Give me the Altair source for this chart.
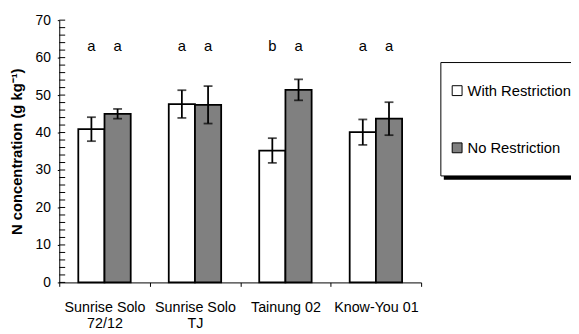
import altair as alt
import pandas as pd

# ---- data ----
cultivars = ["Sunrise Solo 72/12", "Sunrise Solo TJ", "Tainung 02", "Know-You 01"]
label_lines = [["Sunrise Solo", "72/12"], ["Sunrise Solo", "TJ"], ["Tainung 02"], ["Know-You 01"]]
treatments = ["With Restriction", "No Restriction"]
with_mean = [40.9, 47.6, 35.2, 40.1]
with_err = [3.2, 3.7, 3.3, 3.4]
no_mean = [45.0, 47.4, 51.4, 43.7]
no_err = [1.3, 5.0, 2.8, 4.4]
with_letters = ["a", "a", "b", "a"]
no_letters = ["a", "a", "a", "a"]
letter_level = 63
y_major = [0, 10, 20, 30, 40, 50, 60, 70]
y_minor = list(range(0, 71, 2))

rows = []
for i, c in enumerate(cultivars):
    for t, m, e, l in ((treatments[0], with_mean, with_err, with_letters),
                       (treatments[1], no_mean, no_err, no_letters)):
        rows.append({"cultivar": c, "treatment": t, "mean": m[i],
                     "lo": m[i] - e[i], "hi": m[i] + e[i], "letter": l[i],
                     "ly": letter_level})
df = pd.DataFrame(rows)
minor_df = pd.DataFrame({"v": y_minor})

label_expr = ""
for c, lines in zip(cultivars, label_lines):
    arr = "[" + ",".join("'" + s + "'" for s in lines) + "]"
    label_expr += f"datum.value == '{c}' ? {arr} : "
label_expr += "datum.label"

FONT = "Liberation Sans"

x_axis = alt.Axis(title=None, labelAngle=0, tickBand="extent", grid=False,
                  labelExpr=label_expr, labelFontSize=14.5, labelLineHeight=15.7,
                  labelPadding=15, tickSize=4, domainColor="black",
                  tickColor="black", labelColor="black", labelFont=FONT)
y_axis = alt.Axis(values=y_major, title="N concentration (g kg⁻¹)",
                  titleFontWeight="bold", titleFontSize=15, titleFont=FONT,
                  titleColor="black", titlePadding=11, labelFontSize=14,
                  labelFont=FONT, labelColor="black", tickSize=2,
                  labelPadding=7, grid=False, domainColor="black",
                  tickColor="black", labelOverlap=False)
x_enc = alt.X("cultivar:N", sort=cultivars,
              scale=alt.Scale(paddingInner=0, paddingOuter=0), axis=x_axis)
xo_enc = alt.XOffset("treatment:N", sort=treatments,
                     scale=alt.Scale(paddingInner=0, paddingOuter=0.726))
y_scale = alt.Scale(domain=[0, 70], nice=False)


def Y(field):
    return alt.Y(field, scale=y_scale, axis=y_axis)


base = alt.Chart(df)

bars = base.mark_bar(stroke="black", strokeWidth=1.8).encode(
    x=x_enc, xOffset=xo_enc, y=Y("mean:Q"),
    fill=alt.Fill("treatment:N", sort=treatments,
                  scale=alt.Scale(domain=treatments, range=["white", "#808080"]),
                  legend=alt.Legend(title=None, orient="none", legendX=396, legendY=64,
                                    padding=0, labelOffset=3,
                                    rowPadding=42, symbolType="square", symbolSize=100,
                                    symbolStrokeColor="black", symbolStrokeWidth=1,
                                    labelFontSize=15, labelFont=FONT, labelColor="black")),
)

err = base.mark_rule(color="black", strokeWidth=1.8).encode(
    x=x_enc, xOffset=xo_enc, y=Y("lo:Q"), y2="hi:Q")
cap_lo = base.mark_tick(color="black", thickness=1.8, size=9, orient="horizontal").encode(
    x=x_enc, xOffset=xo_enc, y=Y("lo:Q"))
cap_hi = base.mark_tick(color="black", thickness=1.8, size=9, orient="horizontal").encode(
    x=x_enc, xOffset=xo_enc, y=Y("hi:Q"))
letters = base.mark_text(fontSize=15, font=FONT, color="black", baseline="middle").encode(
    x=x_enc, xOffset=xo_enc, y=Y("ly:Q"), text="letter:N")

minor = alt.Chart(minor_df).mark_rule(color="black", strokeWidth=1).encode(
    y=Y("v:Q"), x=alt.value(0), x2=alt.value(6))

one = minor_df.head(1)
shadow = alt.Chart(one).mark_rule(color="black", strokeWidth=4).encode(
    x=alt.value(390), x2=alt.value(600), y=alt.value(160))
legend_box = alt.Chart(one).mark_rect(fill="white", stroke="black", strokeWidth=1).encode(
    x=alt.value(387), x2=alt.value(600), y=alt.value(43), y2=alt.value(158))

chart = alt.layer(bars, shadow, legend_box, err, cap_lo, cap_hi, letters, minor).properties(
    width=367, height=266,
    autosize=alt.AutoSizeParams(type="none"),
    padding={"left": 52, "top": 10, "right": 152, "bottom": 50},
).configure(font=FONT).configure_view(stroke=None)

chart.save("out.html", embed_options={"renderer": "svg", "actions": False})
